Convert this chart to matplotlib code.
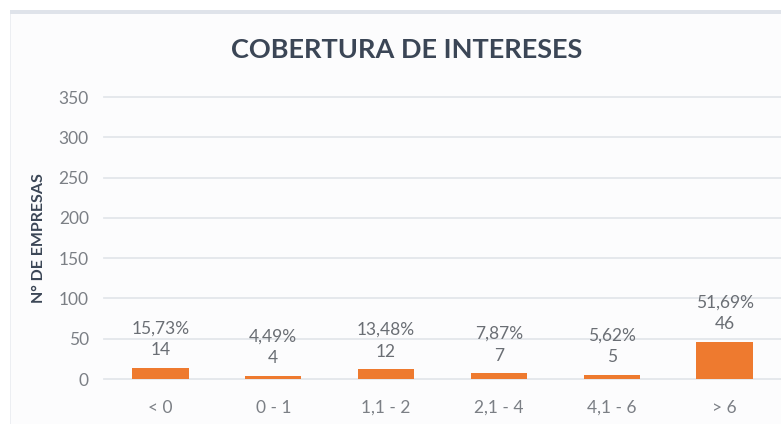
import numpy as np
import matplotlib.pyplot as plt
from matplotlib.patches import Rectangle

plt.rcParams['font.family'] = ['Lato', 'DejaVu Sans']

categorias = ['< 0', '0 - 1', '1,1 - 2', '2,1 - 4', '4,1 - 6', '> 6']
empresas = [14, 4, 12, 7, 5, 46]
porcentajes = ['15,73%', '4,49%', '13,48%', '7,87%', '5,62%', '51,69%']

W, H = 781, 424
fig = plt.figure(figsize=(W / 100, H / 100), dpi=100)
fig.patch.set_facecolor('white')

# panel background + borders
fig.patches.append(Rectangle((10 / W, 0), 1, 1 - 10 / H, transform=fig.transFigure,
                             facecolor='#fcfcfd', edgecolor='none', zorder=-10))
fig.patches.append(Rectangle((10 / W, 1 - 14 / H), 1, 4 / H, transform=fig.transFigure,
                             facecolor='#dfe3ea', edgecolor='none', zorder=-9))
fig.patches.append(Rectangle((10 / W, 0), 1.2 / W, 1 - 14 / H, transform=fig.transFigure,
                             facecolor='#eceef2', edgecolor='none', zorder=-9))

ax = fig.add_axes([104 / W, 45 / H, (W - 104) / W, 282 / H])
ax.set_facecolor('none')

x = np.arange(len(categorias))
bars = ax.bar(x, empresas, width=0.5, color='#ee7a2f', zorder=3)

ax.set_xlim(-0.5, 5.5)
ax.set_ylim(0, 350)
ax.set_yticks(np.arange(0, 351, 50))
ax.grid(axis='y', color='#e3e6eb', linewidth=1.3, zorder=0)
for ln in ax.get_ygridlines():
    ln.set_clip_on(False)
for s in ax.spines.values():
    s.set_visible(False)
ax.tick_params(length=0, colors='#7b7f85', labelsize=12.5)
ax.tick_params(axis='y', pad=11)
ax.tick_params(axis='x', pad=15)
ax.set_xticks(x)
ax.set_xticklabels(categorias)

for xi, v, p in zip(x, empresas, porcentajes):
    ax.annotate(f'{p}\n{v}', (xi, v), xytext=(0, 7), textcoords='offset points',
                ha='center', va='bottom', fontsize=12.5, color='#6a6e74',
                linespacing=1.45)

ax.set_ylabel('N° DE EMPRESAS', fontsize=11.5, fontweight='bold', color='#3b4656')
ax.yaxis.set_label_coords(-58 / (W - 104), 0.5)

fig.text(407 / W, 1 - 50 / H, 'COBERTURA DE INTERESES', ha='center', va='center',
         fontsize=19.5, fontweight='bold', color='#3b4656')

fig.savefig('out.png', dpi=100)
